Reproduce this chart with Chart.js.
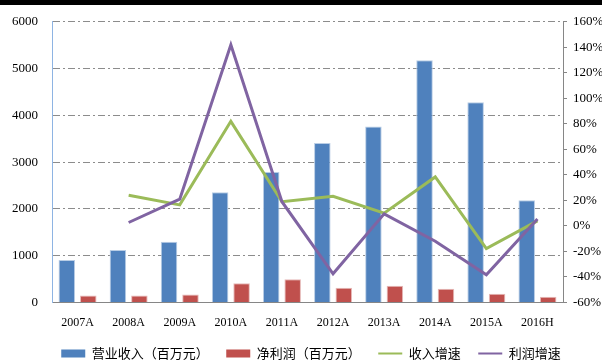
<!DOCTYPE html>
<html>
<head>
<meta charset="utf-8">
<script src="https://cdn.jsdelivr.net/npm/chart.js@4.4.1/dist/chart.umd.min.js"></script>
<style>
  html, body { margin: 0; padding: 0; background: #fff; }
  #wrap { position: relative; width: 602px; height: 361px; }
</style>
</head>
<body>
<div id="wrap"><canvas id="c" width="602" height="361"></canvas></div>
<script>
// categories and series
const years = ["2007A", "2008A", "2009A", "2010A", "2011A", "2012A", "2013A", "2014A", "2015A", "2016H"];
const revenue = [910, 1120, 1300, 2355, 2790, 3410, 3760, 5180, 4280, 2185];
const netProfit = [150, 150, 170, 413, 498, 313, 356, 292, 185, 122];
const revenueGrowth = [null, 24, 16.5, 82, 19, 23.3, 10, 38.4, -17.7, 4];
const profitGrowth = [null, 2.7, 21, 142, 19, -37.5, 9.5, -12, -38.3, 5.5];

const leftTicks = [0, 1000, 2000, 3000, 4000, 5000, 6000];
const rightTicks = [-60, -40, -20, 0, 20, 40, 60, 80, 100, 120, 140, 160];

const serif = "'Liberation Serif', 'Times New Roman', serif";
const cjk = "'Noto Sans CJK SC', sans-serif";

// thin black band across the top of the picture
const topBand = {
  id: "topBand",
  beforeDraw(chart) {
    const ctx = chart.ctx;
    ctx.save();
    ctx.fillStyle = "#000";
    ctx.fillRect(0, 0, chart.width, 5);
    ctx.restore();
  },
};

// nudge the legend to where the reference has it, and let the x labels
// hang below their (short) axis box without being clipped
const layoutTweaks = {
  id: "layoutTweaks",
  afterLayout(chart) {
    const lg = chart.legend;
    lg.left += 10;
    lg.right += 10;
    lg.top += 9;
    lg.bottom += 9;
    chart.scales.x.bottom = chart.height;
  },
};

new Chart(document.getElementById("c"), {
  data: {
    labels: years,
    datasets: [
      {
        type: "bar",
        label: "营业收入（百万元）",
        data: revenue,
        backgroundColor: "#4F81BD",
        borderColor: "#B9CDE5",
        borderWidth: 1,
        yAxisID: "y",
        order: 2,
        categoryPercentage: 0.84,
        barPercentage: 0.77,
      },
      {
        type: "bar",
        label: "净利润（百万元）",
        data: netProfit,
        backgroundColor: "#C0504D",
        borderColor: "#E6B9B8",
        borderWidth: 1,
        yAxisID: "y",
        order: 2,
        categoryPercentage: 0.84,
        barPercentage: 0.77,
      },
      {
        type: "line",
        label: "收入增速",
        data: revenueGrowth,
        borderColor: "#9BBB59",
        backgroundColor: "#9BBB59",
        borderWidth: 3,
        pointRadius: 0,
        tension: 0,
        yAxisID: "y1",
        order: 1,
      },
      {
        type: "line",
        label: "利润增速",
        data: profitGrowth,
        borderColor: "#8064A2",
        backgroundColor: "#8064A2",
        borderWidth: 3,
        pointRadius: 0,
        tension: 0,
        yAxisID: "y1",
        order: 0,
      },
    ],
  },
  options: {
    responsive: false,
    animation: false,
    layout: { padding: { top: 20, bottom: 0, left: 0, right: 0 } },
    plugins: {
      tooltip: { enabled: false },
      legend: {
        position: "bottom",
        labels: {
          usePointStyle: true,
          generateLabels(chart) {
            return chart.data.datasets.map((ds, i) => ({
              text: ds.label,
              datasetIndex: i,
              fillStyle: ds.backgroundColor,
              strokeStyle: ds.type === "line" ? ds.borderColor : ds.backgroundColor,
              lineWidth: ds.type === "line" ? 2 : 0,
              pointStyle: ds.type === "line" ? "line" : "rect",
              hidden: false,
              fontColor: "#000",
            }));
          },
          pointStyleWidth: 24,
          boxHeight: 8,
          padding: 17.5,
          color: "#000",
          font: { family: cjk, size: 13 },
        },
      },
    },
    scales: {
      x: {
        grid: { display: false, drawTicks: false },
        border: { color: "#868686", width: 1 },
        ticks: { font: { family: serif, size: 12 }, color: "#000", padding: 13, maxRotation: 0 },
        afterFit(scale) { scale.height = 18; },
      },
      y: {
        position: "left",
        min: 0,
        max: 6000,
        afterBuildTicks(scale) { scale.ticks = leftTicks.map(v => ({ value: v })); },
        grid: {
          color: "#8c8c8c",
          lineWidth: 1,
          drawTicks: false,
        },
        border: { color: "#8EB4E3", width: 1, dash: [7, 3, 2, 3] },
        ticks: { font: { family: serif, size: 13 }, color: "#000", padding: 14, callback: v => String(v) },
        afterFit(scale) { scale.width = 52; },
      },
      y1: {
        position: "right",
        min: -60,
        max: 160,
        afterBuildTicks(scale) { scale.ticks = rightTicks.map(v => ({ value: v })); },
        grid: { drawOnChartArea: false, color: "#868686", tickLength: 4 },
        border: { color: "#868686", width: 1 },
        ticks: { font: { family: serif, size: 13 }, color: "#000", padding: 6, callback: v => v + "%" },
        afterFit(scale) { scale.width = 39; },
      },
    },
  },
  plugins: [topBand, layoutTweaks],
});
</script>
</body>
</html>
